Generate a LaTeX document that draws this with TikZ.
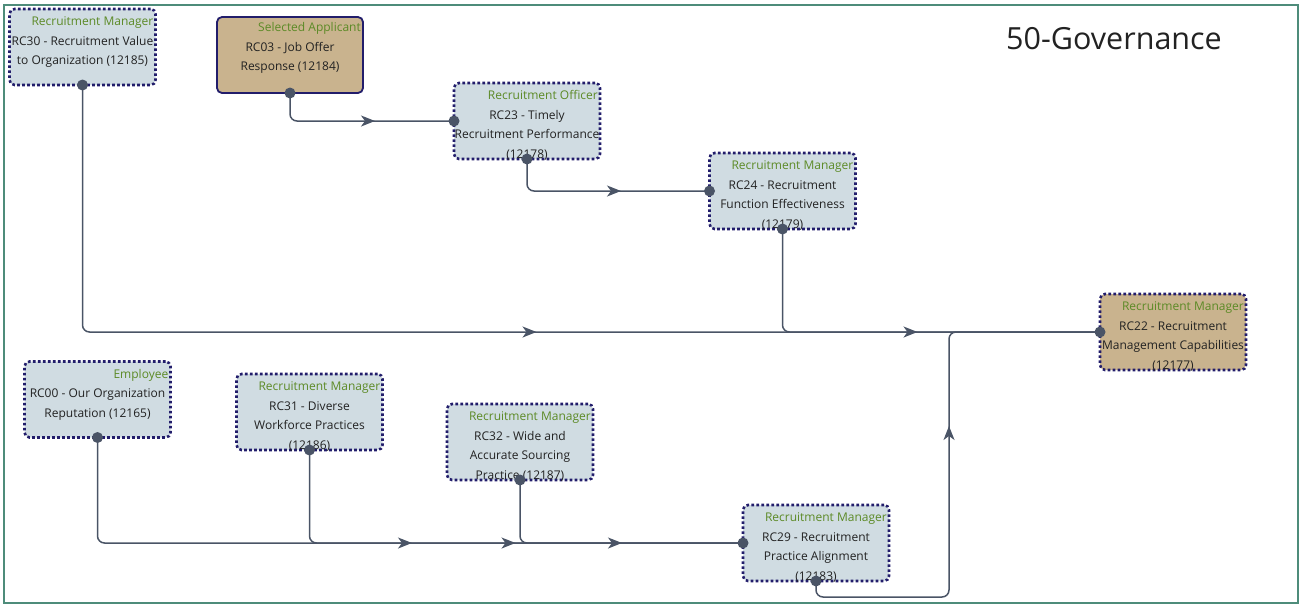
\documentclass[tikz,border=0pt]{standalone}
\usepackage{fontspec}
\setmainfont{Open Sans}
\usetikzlibrary{arrows.meta,decorations.markings}
\definecolor{boxblue}{HTML}{D0DCE2}
\definecolor{boxtan}{HTML}{C9B38E}
\definecolor{navy}{HTML}{221D6B}
\definecolor{roleg}{HTML}{5C8A26}
\definecolor{linec}{HTML}{4A5466}
\definecolor{framec}{HTML}{4E8C7A}
\definecolor{textc}{HTML}{222222}
\newcommand\rcnode[7]{%
  \node[#4] (#1) at (#2,#3) {};
  \node[roletext, anchor=base east] (#1-role) at ([shift={(-2,16.5-#7)}]#1.north east) {#5};
  \foreach \ln [count=\i] in {#6} {
    \node[bodytext, anchor=base] (#1-l\i) at ([shift={(0,17-#7+19.4*\i)}]#1.north) {\ln};
  }
}
\begin{document}
\begin{tikzpicture}[x=1pt,y=-1pt,
  rcbox/.style={minimum width=146pt, minimum height=76pt, rounded corners=5pt, inner sep=0pt, outer sep=0pt},
  dotbox/.style={rcbox, fill=boxblue, draw=navy, line width=2.6pt, dash pattern=on 2.6pt off 2.4pt},
  dottan/.style={rcbox, fill=boxtan, draw=navy, line width=2.6pt, dash pattern=on 2.6pt off 2.4pt},
  solidtan/.style={rcbox, fill=boxtan, draw=navy, line width=1.8pt},
  roletext/.style={font=\fontsize{12}{14}\selectfont, text=roleg, inner sep=0pt},
  bodytext/.style={font=\fontsize{12}{14}\selectfont, text=textc, inner sep=0pt},
  conn/.style={draw=linec, line width=1.5pt, rounded corners=7pt},
  arrowat/.style={postaction={decorate}, decoration={markings, mark=at position #1 with {\arrow{Stealth[length=14pt,width=11pt,inset=4pt]}}}},
  dotc/.style={fill=linec}
]
\useasboundingbox (0,0) rectangle (1302,606);
\draw[framec, line width=1.5pt] (4,5) rectangle (1298,603);
\node[font=\fontsize{30.5}{33}\selectfont, text=textc, inner sep=0pt] (title) at (1114,39) {50-Governance};

\rcnode{rc30}{82.5}{47}{dotbox}{Recruitment Manager}{RC30 - Recruitment Value,to Organization (12185)}{0}
\rcnode{rc03}{290}{55}{solidtan}{Selected Applicant}{RC03 - Job Offer,Response (12184)}{2}
\rcnode{rc23}{527}{121}{dotbox}{Recruitment Officer}{RC23 - Timely,Recruitment Performance,(12178)}{0}
\rcnode{rc24}{782.5}{191}{dotbox}{Recruitment Manager}{RC24 - Recruitment,Function Effectiveness,(12179)}{0}
\rcnode{rc22}{1173}{332}{dottan}{Recruitment Manager}{RC22 - Recruitment,Management Capabilities,(12177)}{0}
\rcnode{rc00}{97.5}{399.5}{dotbox}{Employee}{RC00 - Our Organization,Reputation (12165)}{0}
\rcnode{rc31}{309.5}{412}{dotbox}{Recruitment Manager}{RC31 - Diverse,Workforce Practices,(12186)}{0}
\rcnode{rc32}{520}{442}{dotbox}{Recruitment Manager}{RC32 - Wide and,Accurate Sourcing,Practice (12187)}{0}
\rcnode{rc29}{816}{543}{dotbox}{Recruitment Manager}{RC29 - Recruitment,Practice Alignment,(12183)}{0}

\coordinate (c1) at (949,597);

\draw[conn, arrowat=698pt] (rc30.south) |- (rc22.west);
\draw[conn, arrowat=110pt] (rc03.south) |- (rc23.west);
\draw[conn, arrowat=123pt] (rc23.south) |- (rc24.west);
\draw[conn, arrowat=235pt] (rc24.south) |- (rc22.west);
\draw[conn, arrowat=417pt] (rc00.south) |- (rc29.west);
\draw[conn, arrowat=296pt] (rc31.south) |- (rc29.west);
\draw[conn, arrowat=162pt] (rc32.south) |- (rc29.west);
\draw[conn, arrowat=314pt] (rc29.south) |- (c1) |- (rc22.west);

\foreach \p in {rc30.south, rc03.south, rc23.south, rc24.south, rc00.south, rc31.south, rc32.south, rc29.south, rc23.west, rc24.west, rc22.west, rc29.west}
  \fill[dotc] (\p) circle (5.5);
\end{tikzpicture}
\end{document}
